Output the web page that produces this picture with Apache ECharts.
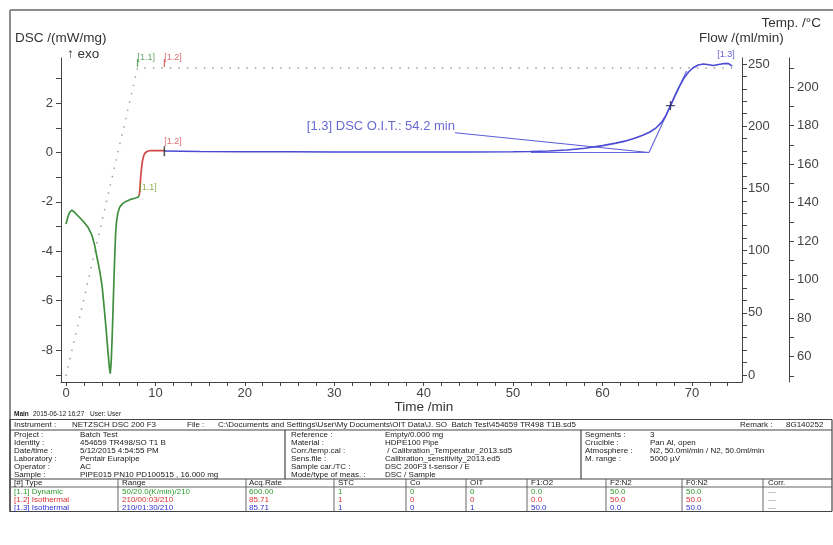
<!DOCTYPE html>
<html><head><meta charset="utf-8">
<script src="https://cdn.jsdelivr.net/npm/echarts@6/dist/echarts.min.js"></script>
<style>html,body{margin:0;padding:0;background:#fff}#c{width:833px;height:545px}</style>
</head><body><div id="c"></div>
<script>
// ---------- data ----------
const dscSeg11 = [[0.0,-2.9],[0.2,-2.62],[0.4,-2.42],[0.65,-2.33],[0.9,-2.4],[1.3,-2.55],[1.7,-2.7],[2.1,-2.86],[2.5,-3.05],[2.9,-3.35],[3.2,-3.75],[3.5,-4.3],[3.8,-4.85],[4.05,-5.45],[4.3,-6.4],[4.5,-7.2],[4.7,-8.1],[4.85,-8.7],[4.95,-8.95],[5.05,-8.5],[5.15,-7.6],[5.25,-6.5],[5.35,-5.3],[5.45,-4.2],[5.55,-3.3],[5.65,-2.8],[5.8,-2.45],[6.0,-2.22],[6.3,-2.08],[6.7,-1.98],[7.2,-1.9],[7.7,-1.85],[8.1,-1.8],[8.2,-1.72]];
const dscSeg12 = [[8.2,-1.72],[8.27,-1.4],[8.35,-1.0],[8.45,-0.62],[8.55,-0.35],[8.7,-0.12],[8.85,-0.02],[9.1,0.05],[9.5,0.08],[10.3,0.08],[11.0,0.08]];
const dscSeg13 = [[11.0,0.06],[15,0.04],[20,0.03],[25,0.03],[30,0.02],[35,0.02],[40,0.02],[45,0.02],[50,0.03],[52,0.04],[54,0.06],[56,0.1],[58,0.17],[60,0.28],[61.5,0.38],[62.5,0.46],[63.5,0.57],[64.5,0.7],[65.3,0.83],[66,1.0],[66.6,1.22],[67.1,1.5],[67.6,1.9],[68.1,2.3],[68.6,2.68],[69.1,3.0],[69.6,3.25],[70.1,3.42],[70.7,3.54],[71.3,3.58],[71.9,3.55],[72.4,3.52],[73.0,3.56],[73.6,3.6],[74.1,3.6],[74.5,3.5]];
const tempProgram = [[0,50],[8,210],[75,210]];
const oitBaseline = [[52,0.0],[65.2,0.0]];
const oitTangent = [[65.2,0.0],[69.4,3.3]];
const oitLeader = [[43.5,0.8],[65.2,0.0]];
const oitInflection = [[67.6,1.9]];
const oitText = '[1.3] DSC O.I.T.: 54.2 min';
const segNames = ['[1.1]','[1.2]','[1.3]'];
const segTempMarks = [[8,210],[11,210]];
const segDscMarks = [[8.2,-1.8],[11,0.08],[73.8,3.6]];

const timeLabels = [0,10,20,30,40,50,60,70];
const timeTicks = [0,2,4,6,8,10,12,14,16,18,20,22,24,26,28,30,32,34,36,38,40,42,44,46,48,50,52,54,56,58,60,62,64,66,68,70,72,74];
const dscLabels = [-8,-6,-4,-2,0,2];
const dscTicks = [-9,-8,-7,-6,-5,-4,-3,-2,-1,0,1,2,3];
const flowLabels = [0,50,100,150,200,250];
const flowTicks = [0,10,20,30,40,50,60,70,80,90,100,110,120,130,140,150,160,170,180,190,200,210,220,230,240,250];
const tempLabels = [60,80,100,120,140,160,180,200];
const tempTicks = [50,60,70,80,90,100,110,120,130,140,150,160,170,180,190,200,210];

const infoMain = ['Main','2015-06-12 16:27','User: User'];
const infoInstrument = ['Instrument :','NETZSCH DSC 200 F3','File :','C:\\Documents and Settings\\User\\My Documents\\OIT Data\\J. SO  Batch Test\\454659 TR498 T1B.sd5','Remark :','8G140252'];
const infoLeft = [['Project :','Batch Test'],['Identity :','454659 TR498/SO T1 B'],['Date/time :','5/12/2015 4:54:55 PM'],['Laboratory :','Pentair Eurapipe'],['Operator :','AC'],['Sample :','PIPE015 PN10 PD100515 , 16.000 mg']];
const infoMid = [['Reference :','Empty/0.000 mg'],['Material :','HDPE100 Pipe'],['Corr./temp.cal :',' / Calibration_Temperatur_2013.sd5'],['Sens.file :','Calibration_sensitivity_2013.ed5'],['Sample car./TC :','DSC 200F3 t-sensor / E'],['Mode/type of meas. :','DSC / Sample']];
const infoRight = [['Segments :','3'],['Crucible :','Pan Al, open'],['Atmosphere :','N2, 50.0ml/min / N2, 50.0ml/min'],['M. range :','5000 µV']];
const segHeader = ['[#] Type','Range','Acq.Rate','STC','Co','OIT','F1:O2','F2:N2','F0:N2','Corr.'];
const segRows = [
 ['[1.1] Dynamic','50/20.0(K/min)/210','600.00','1','0','0','0.0','50.0','50.0','—'],
 ['[1.2] Isothermal','210/00:03/210','85.71','1','0','0','0.0','50.0','50.0','—'],
 ['[1.3] Isothermal','210/01:30/210','85.71','1','0','1','50.0','0.0','50.0','—']];

// ---------- styles ----------
const GREEN='#3f8f3f', RED='#d44848', BLUE='#4a4ad4', AX='#444', FONT='"Liberation Sans", Arial, sans-serif';
const segColors=['#2e9a2e','#d83030','#3030d0'];

function T(x,y,s,o){o=o||{};return {type:'text',x:x,y:y,z:100,style:{text:s,fill:o.c||'#1a1a1a',font:(o.w||'normal')+' '+(o.s||8)+'px '+FONT,textAlign:o.a||'left',align:o.a||'left',textVerticalAlign:'middle',verticalAlign:'middle'}};}
function L(x1,y1,x2,y2,c,w){return {type:'line',z:90,shape:{x1:x1,y1:y1,x2:x2,y2:y2},style:{stroke:c||'#444',lineWidth:w||1.2}};}

const g=[];
// outer frame
g.push(L(10,10,833,10,'#8c8c8c',2));
g.push(L(10,10,10,512,'#8c8c8c',2));
// axis names
g.push(T(15,38,'DSC /(mW/mg)',{s:13.5,c:'#333'}));
g.push(T(67,54,'↑ exo',{s:13.5,c:'#333'}));
g.push(T(821,23,'Temp. /°C',{s:13.5,c:'#333',a:'right'}));
g.push(T(699,38,'Flow /(ml/min)',{s:13.5,c:'#333'}));
g.push(T(424,407,'Time /min',{s:13.5,c:'#333',a:'center'}));
// table
g.push(T(14,414,infoMain[0],{s:6.5,w:'bold'}));g.push(T(33,414,infoMain[1],{s:6.5}));g.push(T(90,414,infoMain[2],{s:6.5}));
g.push(L(10,419.5,832,419.5));g.push(L(10,430,832,430));g.push(L(10,479,832,479));g.push(L(10,511.5,832,511.5));
g.push(L(832,419.5,832,511.5));g.push(L(10,419.5,10,511.5));
g.push(L(285,430,285,479));g.push(L(581,430,581,479));
g.push(L(10,487,832,487,'#555',0.9));
[118,246,334,406,466,527,606,682,763].forEach(x=>g.push(L(x,479,x,511.5,'#555',0.9)));
[14,72,187,218,740,786].forEach((x,i)=>g.push(T(x,425,infoInstrument[i])));
const rowY=[434.5,442.5,450.5,458.5,466.5,474.5];
infoLeft.forEach((r,i)=>{g.push(T(14,rowY[i],r[0]));g.push(T(80,rowY[i],r[1]));});
infoMid.forEach((r,i)=>{g.push(T(291,rowY[i],r[0]));g.push(T(385,rowY[i],r[1]));});
infoRight.forEach((r,i)=>{g.push(T(585,rowY[i],r[0]));g.push(T(650,rowY[i],r[1]));});
const colX=[14,122,249,338,410,470,531,610,686,768];
segHeader.forEach((s,j)=>g.push(T(colX[j],483,s)));
segRows.forEach((r,i)=>r.forEach((s,j)=>g.push(T(colX[j],491.5+8*i,s,{c:j===9?'#888':segColors[i]}))));

function axisY(min,max,labels,ticks,pos,offset,margin){
  return {type:'value',position:pos,offset:offset,min:min,max:max,
    axisLine:{show:true,onZero:false,lineStyle:{color:AX,width:1}},
    axisTick:{show:true,customValues:ticks,length:5,lineStyle:{color:AX}},
    axisLabel:{customValues:labels,color:AX,fontSize:13,fontFamily:FONT,margin:margin},
    splitLine:{show:false}};
}
function segLabel(pt,name,color,align){
  return {type:'scatter',yAxisIndex:0,data:[pt],symbolSize:0,silent:true,z:20,
    label:{show:true,formatter:name,position:'top',align:align||'left',distance:5,color:color,fontSize:9,fontFamily:FONT}};
}

const chart=echarts.init(document.getElementById('c'),null,{renderer:'canvas'});
chart.setOption({
  animation:false,
  backgroundColor:'#fff',
  grid:{left:61,right:91,top:58,bottom:163,containLabel:false},
  xAxis:{type:'value',min:-0.559,max:75.6,
    axisLine:{onZero:false,lineStyle:{color:AX,width:1}},
    axisTick:{customValues:timeTicks,length:4,lineStyle:{color:AX}},
    axisLabel:{customValues:timeLabels,color:AX,fontSize:13,fontFamily:FONT,margin:5},
    splitLine:{show:false}},
  yAxis:[
    axisY(-9.291,3.826,dscLabels,dscTicks,'left',0,8),
    axisY(-5.63,254.8,flowLabels,flowTicks,'right',0,6),
    axisY(46.86,215.17,tempLabels,tempTicks,'right',47,8)
  ],
  series:[
    {type:'line',name:'temp',yAxisIndex:2,data:tempProgram,symbol:'none',lineStyle:{color:'#a0a0a0',width:1.5,type:[1.5,7]},z:1},
    {type:'line',name:'[1.1]',yAxisIndex:0,data:dscSeg11,symbol:'none',lineStyle:{color:GREEN,width:1.7},z:5},
    {type:'line',name:'[1.2]',yAxisIndex:0,data:dscSeg12,symbol:'none',lineStyle:{color:RED,width:1.7},z:5},
    {type:'line',name:'[1.3]',yAxisIndex:0,data:dscSeg13,symbol:'none',lineStyle:{color:BLUE,width:1.6},z:5},
    {type:'line',yAxisIndex:0,data:oitBaseline,symbol:'none',lineStyle:{color:'#6a6ae0',width:1},z:4},
    {type:'line',yAxisIndex:0,data:oitTangent,symbol:'none',lineStyle:{color:'#6a6ae0',width:1.2},z:4},
    {type:'line',yAxisIndex:0,data:oitLeader,symbol:'none',lineStyle:{color:'#5a5ad8',width:1},z:4},
    {type:'scatter',yAxisIndex:0,data:oitInflection,symbol:'path://M0,5L10,5M5,0L5,10',symbolSize:9,itemStyle:{color:'transparent',borderColor:'#22224a',borderWidth:1.3},z:8},
    {type:'scatter',yAxisIndex:0,data:[[43.5,0.8]],symbolSize:0,silent:true,
      label:{show:true,formatter:oitText,position:'left',distance:0,offset:[0,-6],color:'#4444c8',fontSize:13,fontFamily:FONT}},
    // segment boundary ticks
    {type:'scatter',yAxisIndex:2,data:[segTempMarks[0]],symbol:'rect',symbolSize:[1.3,8],symbolOffset:[0,-5],itemStyle:{color:GREEN},z:6},
    {type:'scatter',yAxisIndex:2,data:[segTempMarks[1]],symbol:'rect',symbolSize:[1.3,8],symbolOffset:[0,-5],itemStyle:{color:RED},z:6},
    {type:'scatter',yAxisIndex:0,data:[[11,0.05]],symbol:'rect',symbolSize:[1.5,10],itemStyle:{color:'#222'},z:6},
    {type:'scatter',yAxisIndex:2,data:[segTempMarks[0]],symbolSize:0,silent:true,label:{show:true,formatter:segNames[0],position:'top',align:'left',distance:6,color:GREEN,fontSize:9,fontFamily:FONT}},
    {type:'scatter',yAxisIndex:2,data:[segTempMarks[1]],symbolSize:0,silent:true,label:{show:true,formatter:segNames[1],position:'top',align:'left',distance:6,color:RED,fontSize:9,fontFamily:FONT}},
    segLabel(segDscMarks[0],segNames[0],'#7a9a20'),
    segLabel(segDscMarks[1],segNames[1],RED),
    segLabel(segDscMarks[2],segNames[2],'#3a3ac8','center')
  ],
  graphic:{elements:g}
});
</script></body></html>
